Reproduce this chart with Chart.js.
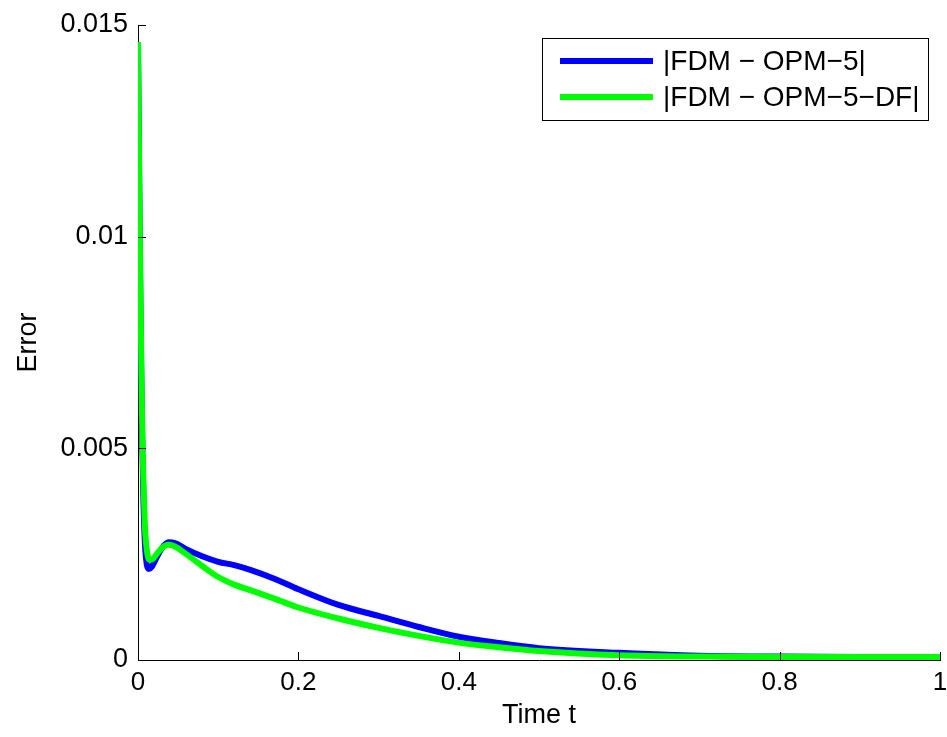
<!DOCTYPE html>
<html>
<head>
<meta charset="utf-8">
<script src="https://cdn.jsdelivr.net/npm/chart.js@4"></script>
<style>
  html, body { margin: 0; padding: 0; background: #ffffff; }
  #wrap { width: 947px; height: 737px; }
</style>
</head>
<body>
<div id="wrap"><canvas id="c" width="947" height="737"></canvas></div>
<script>
// ---- data ----
const seriesLabels = ['|FDM \u2212 OPM\u22125|', '|FDM \u2212 OPM\u22125\u2212DF|'];
const seriesColors = ['#0000ff', '#00ff00'];

const tBlue = [0, 0.001, 0.002, 0.003, 0.004, 0.005, 0.0065, 0.0085, 0.011, 0.0135, 0.017, 0.024, 0.03, 0.038, 0.046, 0.06, 0.08, 0.1, 0.12, 0.14, 0.17, 0.2, 0.25, 0.3, 0.35, 0.4, 0.45, 0.5, 0.6, 0.7, 0.8, 0.9, 1];
const errBlue = [0.0146, 0.0124, 0.0103, 0.0085, 0.0069, 0.0055, 0.0040, 0.0028, 0.00225, 0.00215, 0.0022, 0.00245, 0.00265, 0.00278, 0.00276, 0.00262, 0.00245, 0.00232, 0.00224, 0.00213, 0.00192, 0.00167, 0.00130, 0.00104, 0.00078, 0.00055, 0.00040, 0.00028, 0.00017, 0.00010, 0.00008, 0.00007, 0.00007];

const tGreen = [0, 0.001, 0.002, 0.003, 0.004, 0.005, 0.0065, 0.0085, 0.011, 0.014, 0.018, 0.024, 0.03, 0.038, 0.046, 0.06, 0.08, 0.1, 0.12, 0.14, 0.17, 0.2, 0.25, 0.3, 0.35, 0.4, 0.45, 0.5, 0.6, 0.7, 0.8, 0.9, 1];
const errGreen = [0.0146, 0.0125, 0.0105, 0.0088, 0.0072, 0.0058, 0.0044, 0.0032, 0.0026, 0.00237, 0.00238, 0.00252, 0.00265, 0.00272, 0.00268, 0.00250, 0.00222, 0.00196, 0.00178, 0.00165, 0.00145, 0.00124, 0.00098, 0.00076, 0.00057, 0.00041, 0.00030, 0.00021, 0.00011, 0.00008, 0.00007, 0.00007, 0.00007];

const xTickValues = [0, 0.2, 0.4, 0.6, 0.8, 1];
const xTickLabels = ['0', '0.2', '0.4', '0.6', '0.8', '1'];
const yTickValues = [0, 0.005, 0.01, 0.015];
const yTickLabels = ['0', '0.005', '0.01', '0.015'];

const xTitle = 'Time t';
const yTitle = 'Error';

const toPts = (xs, ys) => xs.map((x, i) => ({ x: x, y: ys[i] }));

// inward ticks (MATLAB style) drawn at the scales' own pixel positions
const inwardTicks = {
  id: 'inwardTicks',
  afterDraw(chart) {
    const ctx = chart.ctx;
    const xs = chart.scales.x, ys = chart.scales.y;
    const area = chart.chartArea;
    ctx.save();
    ctx.strokeStyle = '#000';
    ctx.lineWidth = 1;
    ctx.beginPath();
    xTickValues.forEach(v => {
      if (v === 0) return;
      const px = Math.round(xs.getPixelForValue(v)) + 0.5;
      ctx.moveTo(px, area.bottom);
      ctx.lineTo(px, area.bottom - 8);
    });
    yTickValues.forEach(v => {
      if (v === 0) return;
      const py = Math.round(ys.getPixelForValue(v)) + 0.5;
      ctx.moveTo(area.left, py);
      ctx.lineTo(area.left + 8, py);
    });
    ctx.stroke();
    ctx.restore();
  }
};

// boxed legend inside the plot, top-right
const boxLegend = {
  id: 'boxLegend',
  afterDraw(chart) {
    const ctx = chart.ctx;
    const bx = 542.5, by = 38.5, bw = 386, bh = 82;
    ctx.save();
    ctx.fillStyle = '#fff';
    ctx.fillRect(bx, by, bw, bh);
    ctx.strokeStyle = '#000';
    ctx.lineWidth = 1;
    ctx.strokeRect(bx, by, bw, bh);
    const rows = [61, 97];
    chart.data.datasets.forEach((ds, i) => {
      const y = rows[i];
      ctx.strokeStyle = ds.borderColor;
      ctx.lineWidth = 6;
      ctx.beginPath();
      ctx.moveTo(560, y);
      ctx.lineTo(653, y);
      ctx.stroke();
      ctx.fillStyle = '#000';
      ctx.font = '28px "Liberation Sans", Arial, sans-serif';
      ctx.textBaseline = 'middle';
      ctx.textAlign = 'left';
      ctx.fillText(ds.label, 663, y + 1);
    });
    ctx.restore();
  }
};

new Chart(document.getElementById('c'), {
  type: 'line',
  data: {
    datasets: [
      { label: seriesLabels[0], data: toPts(tBlue, errBlue), borderColor: seriesColors[0], backgroundColor: seriesColors[0], borderWidth: 6, pointRadius: 0, cubicInterpolationMode: 'monotone', fill: false, order: 1 },
      { label: seriesLabels[1], data: toPts(tGreen, errGreen), borderColor: seriesColors[1], backgroundColor: seriesColors[1], borderWidth: 6, pointRadius: 0, cubicInterpolationMode: 'monotone', fill: false, order: 0 }
    ]
  },
  options: {
    responsive: false,
    animation: false,
    layout: { padding: { top: 25, right: 7, left: 0, bottom: 0 } },
    plugins: {
      legend: { display: false },
      tooltip: { enabled: false }
    },
    scales: {
      x: {
        type: 'linear',
        min: 0, max: 1,
        afterBuildTicks: s => { s.ticks = xTickValues.map(v => ({ value: v })); },
        afterFit: s => { s.height = 77; s.paddingLeft = 0; s.paddingRight = 0; },
        grid: { display: false, drawTicks: false },
        border: { display: true, color: '#000', width: 1 },
        ticks: {
          padding: 7,
          color: '#000',
          font: { family: '"Liberation Sans", Arial, sans-serif', size: 26 },
          maxRotation: 0,
          autoSkip: false,
          callback: (v) => { const i = xTickValues.indexOf(v); return i >= 0 ? xTickLabels[i] : ''; }
        },
        title: {
          display: true, text: xTitle, color: '#000',
          font: { family: '"Liberation Sans", Arial, sans-serif', size: 27 },
          padding: { top: 0, bottom: 5 }
        }
      },
      y: {
        type: 'linear',
        min: 0, max: 0.015,
        afterBuildTicks: s => { s.ticks = yTickValues.map(v => ({ value: v })); },
        afterFit: s => { s.width = 138; s.paddingTop = 0; s.paddingBottom = 0; },
        grid: { display: false, drawTicks: false },
        border: { display: true, color: '#000', width: 1 },
        ticks: {
          padding: 10,
          color: '#000',
          font: { family: '"Liberation Sans", Arial, sans-serif', size: 27 },
          autoSkip: false,
          callback: (v) => { const i = yTickValues.indexOf(v); return i >= 0 ? yTickLabels[i] : ''; }
        },
        title: {
          display: true, text: yTitle, color: '#000',
          font: { family: '"Liberation Sans", Arial, sans-serif', size: 27 },
          padding: { top: 12, bottom: 0 }
        }
      }
    }
  },
  plugins: [inwardTicks, boxLegend]
});
</script>
</body>
</html>
